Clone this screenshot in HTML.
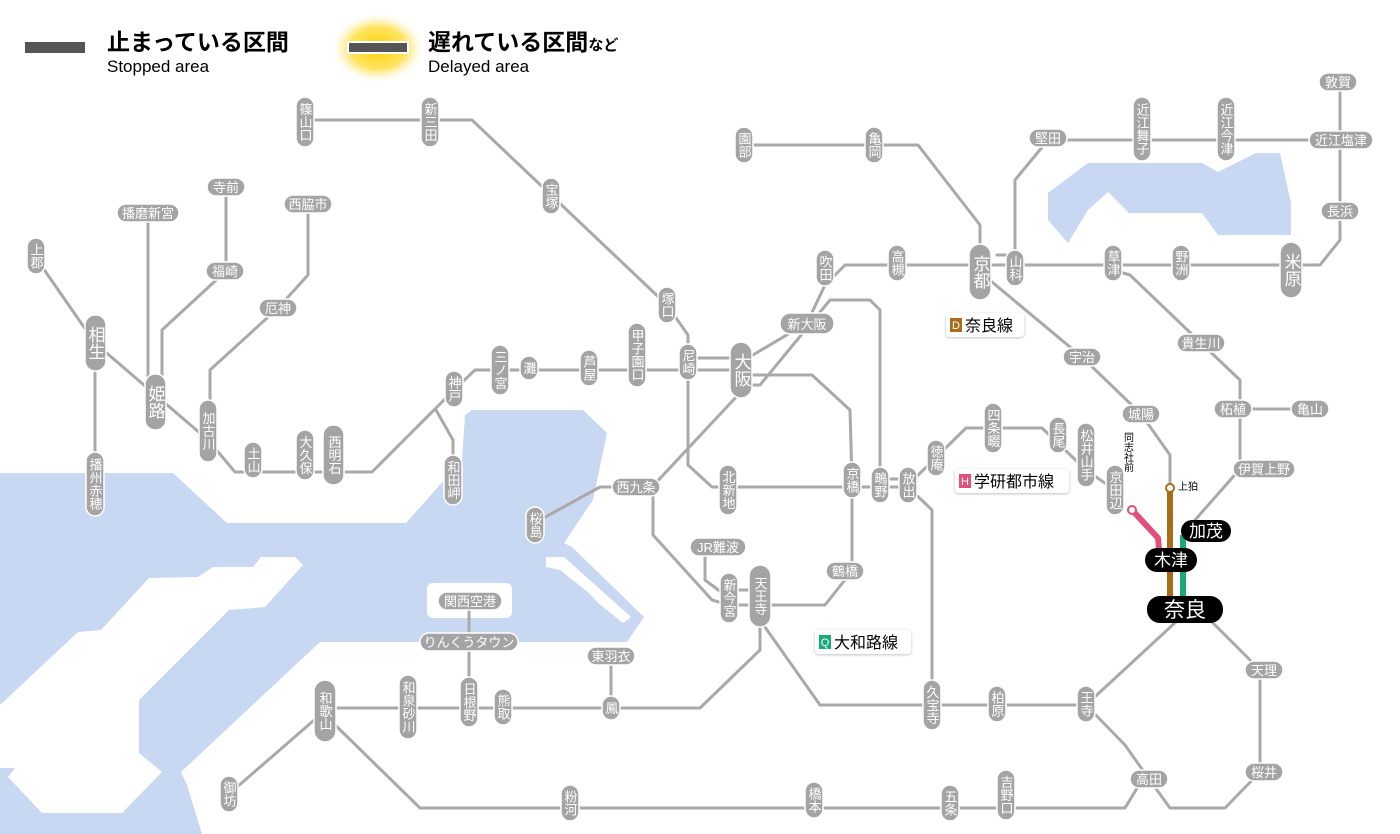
<!DOCTYPE html>
<html><head><meta charset="utf-8">
<style>
html,body{margin:0;padding:0;background:#fff;}
svg{display:block;}
.l{fill:none;stroke:#a9a9a9;stroke-width:3;stroke-linejoin:round;stroke-linecap:round;}
.p{fill:#a4a4a4;stroke:#fff;stroke-width:1.5;}
.t{fill:#fff;font-family:"Liberation Sans","Noto Sans CJK JP",sans-serif;font-size:13px;}
.b{font-size:17px;}
.v{writing-mode:vertical-rl;text-orientation:upright;}
.kt{fill:#fff;font-family:"Liberation Sans","Noto Sans CJK JP",sans-serif;}
</style></head><body>
<svg width="1400" height="834" viewBox="0 0 1400 834" xmlns="http://www.w3.org/2000/svg">
<defs>
<radialGradient id="g"><stop offset="0" stop-color="#ffd000"/><stop offset="0.6" stop-color="#ffe566"/><stop offset="1" stop-color="#fff" stop-opacity="0"/></radialGradient>
<filter id="sh"><feDropShadow dx="0" dy="1" stdDeviation="1.5" flood-color="#999" flood-opacity="0.6"/></filter>
</defs>
<!-- water -->
<g fill="#c9d8f2">
<polygon points="0,473 173,473 227,523 406,523 462,460 465,415 472,410 583,410 607,433 593,500 564,543 572,547 644,617 627,642 320,642 181,772 187,785 202,834 0,834"/>
<polygon points="1048,193 1088,163 1202,163 1218,172 1256,153 1280,153 1291,203 1291,235 1218,235 1202,213 1129,213 1108,192 1088,210 1068,243 1048,220"/>
</g>
<g fill="#fff">
<polygon points="261,557 295,557 303,565 265,607 229,610 139,700 139,753 162,772 122,813 42,813 8,777 15,768 0,768 0,705 78,632 101,630 149,578 198,577 213,567 253,567"/>
<polygon points="546,557 564,557 631,617 623,623 598,603 589,593 560,570 546,567"/>
<rect x="427" y="583" width="85" height="35" rx="6"/>
</g>
<!-- legend -->
<rect x="25" y="42" width="60" height="11" fill="#555"/>
<text x="107" y="50" font-family="Liberation Sans,'Noto Sans CJK JP',sans-serif" font-size="23" font-weight="bold" fill="#000">止まっている区間</text>
<text x="107" y="72" font-family="Liberation Sans,'Noto Sans CJK JP',sans-serif" font-size="17" fill="#000">Stopped area</text>
<ellipse cx="378" cy="48" rx="48" ry="36" fill="url(#g)"/>
<rect x="347" y="41" width="62" height="13" fill="#fff"/>
<rect x="349" y="43" width="58" height="9" fill="#555"/>
<text x="428" y="50" font-family="Liberation Sans,'Noto Sans CJK JP',sans-serif" font-size="23" font-weight="bold" fill="#000">遅れている区間<tspan font-size="15">など</tspan></text>
<text x="428" y="72" font-family="Liberation Sans,'Noto Sans CJK JP',sans-serif" font-size="17" fill="#000">Delayed area</text>

<!-- lines -->
<g class="l">
<polyline points="305,120 472,120 551,195 667,305 688,335 688,465 712,487 908,487"/>
<polyline points="688,358 741,358"/><polyline points="688,370 741,370"/>
<polyline points="36,258 95,343 208,440 235,472 372,472 454,390 475,370 741,370"/>
<polyline points="436,410 453,440 453,480"/>
<polyline points="95,343 95,483"/>
<polyline points="148,213 148,400"/>
<polyline points="226,187 226,271 162,330 162,400"/>
<polyline points="308,204 308,275 278,308 210,370 210,430"/>
<polyline points="741,362 807,323 825,285 845,265 1320,265 1340,240 1340,82"/>
<polyline points="745,385 760,385 830,300 870,300 880,310 880,485"/>
<polyline points="744,145 918,145 980,225 980,272"/>
<polyline points="997,255 1015,255"/>
<polyline points="1015,268 1015,180 1048,140 1341,140"/>
<polyline points="980,272 1082,357 1141,414 1170,455 1170,488"/>
<polyline points="1113,270 1130,275 1201,343 1240,380 1240,469 1195,520 1190,531"/>
<polyline points="1233,409 1310,409"/>
<polyline points="652,487 738,395"/>
<polyline points="745,375 812,375 850,410 852,480 852,571 825,605 729,605 712,600 653,535 653,487"/>
<polyline points="636,487 600,487 540,520"/>
<polyline points="705,555 705,580 729,598"/>
<polyline points="729,590 760,590"/>
<polyline points="760,620 820,705 1086,705 1178,620"/>
<polyline points="1086,705 1125,745 1149,779"/>
<polyline points="760,620 760,650 700,708 325,708"/>
<polyline points="611,656 611,708"/>
<polyline points="469,601 469,702"/>
<polyline points="320,715 229,794"/>
<polyline points="330,720 420,808 1125,808 1142,780"/>
<polyline points="1149,779 1170,808 1225,808 1260,772 1260,670 1210,620"/>
<polyline points="908,487 932,510 932,705"/>
<polyline points="880,479 908,479"/>
<polyline points="908,485 966,428 1042,428 1086,470 1115,490"/>
</g>
<polyline points="1132,510 1158,538 1160,560" fill="none" stroke="#e0507a" stroke-width="6" stroke-linejoin="round"/>
<polyline points="1170,488 1170,600" fill="none" stroke="#a86c1a" stroke-width="6"/>
<polyline points="1183,535 1183,600" fill="none" stroke="#1aaa7a" stroke-width="6"/>
<circle cx="1132" cy="510" r="4" fill="#fff" stroke="#e0507a" stroke-width="2"/>
<circle cx="1170" cy="488" r="4" fill="#fff" stroke="#a86c1a" stroke-width="2"/>
<text x="1127" y="452" font-family="Liberation Sans,'Noto Sans CJK JP',sans-serif" font-size="10" class="v" text-anchor="middle" fill="#000">同志社前</text>
<text x="1178" y="490" font-family="Liberation Sans,'Noto Sans CJK JP',sans-serif" font-size="10" fill="#000">上狛</text>

<!-- vertical pills -->
<g>
<rect class="p" x="296" y="97" width="18" height="50" rx="9"/><text class="t v" x="305" y="122" text-anchor="middle">篠山口</text>
<rect class="p" x="421" y="97" width="18" height="50" rx="9"/><text class="t v" x="430" y="122" text-anchor="middle">新三田</text>
<rect class="p" x="542" y="178" width="18" height="36" rx="9"/><text class="t v" x="551" y="196" text-anchor="middle">宝塚</text>
<rect class="p" x="27" y="238" width="18" height="36" rx="9"/><text class="t v" x="36" y="256" text-anchor="middle">上郡</text>
<rect class="p" x="85" y="315" width="21" height="56" rx="10"/><text class="t v b" x="95" y="343" text-anchor="middle">相生</text>
<rect class="p" x="145" y="374" width="21" height="56" rx="10"/><text class="t v b" x="155" y="402" text-anchor="middle">姫路</text>
<rect class="p" x="199" y="400" width="18" height="62" rx="9"/><text class="t v" x="208" y="431" text-anchor="middle">加古川</text>
<rect class="p" x="244" y="442" width="18" height="36" rx="9"/><text class="t v" x="253" y="460" text-anchor="middle">土山</text>
<rect class="p" x="296" y="430" width="18" height="50" rx="9"/><text class="t v" x="305" y="455" text-anchor="middle">大久保</text>
<rect class="p" x="323" y="425" width="21" height="60" rx="10"/><text class="t v" x="334" y="455" text-anchor="middle" font-size="15">西明石</text>
<rect class="p" x="86" y="452" width="18" height="64" rx="9"/><text class="t v" x="95" y="484" text-anchor="middle">播州赤穂</text>
<rect class="p" x="445" y="371" width="18" height="36" rx="9"/><text class="t v" x="454" y="389" text-anchor="middle">神戸</text>
<rect class="p" x="491" y="345" width="18" height="50" rx="9"/><text class="t v" x="500" y="370" text-anchor="middle">三ノ宮</text>
<rect class="p" x="520" y="356" width="18" height="24" rx="9"/><text class="t v" x="529" y="368" text-anchor="middle">灘</text>
<rect class="p" x="580" y="350" width="18" height="36" rx="9"/><text class="t v" x="589" y="368" text-anchor="middle">芦屋</text>
<rect class="p" x="628" y="323" width="18" height="64" rx="9"/><text class="t v" x="637" y="355" text-anchor="middle">甲子園口</text>
<rect class="p" x="679" y="344" width="18" height="36" rx="9"/><text class="t v" x="688" y="362" text-anchor="middle">尼崎</text>
<rect class="p" x="730" y="342" width="22" height="56" rx="11"/><text class="t v b" x="741" y="370" text-anchor="middle">大阪</text>
<rect class="p" x="658" y="287" width="18" height="36" rx="9"/><text class="t v" x="667" y="305" text-anchor="middle">塚口</text>
<rect class="p" x="816" y="250" width="18" height="36" rx="9"/><text class="t v" x="825" y="268" text-anchor="middle">吹田</text>
<rect class="p" x="888" y="245" width="18" height="36" rx="9"/><text class="t v" x="897" y="263" text-anchor="middle">高槻</text>
<rect class="p" x="969" y="244" width="22" height="56" rx="11"/><text class="t v b" x="980" y="272" text-anchor="middle">京都</text>
<rect class="p" x="1006" y="250" width="18" height="36" rx="9"/><text class="t v" x="1015" y="268" text-anchor="middle">山科</text>
<rect class="p" x="735" y="127" width="18" height="36" rx="9"/><text class="t v" x="744" y="145" text-anchor="middle">園部</text>
<rect class="p" x="865" y="127" width="18" height="36" rx="9"/><text class="t v" x="874" y="145" text-anchor="middle">亀岡</text>
<rect class="p" x="1133" y="97" width="18" height="64" rx="9"/><text class="t v" x="1142" y="129" text-anchor="middle">近江舞子</text>
<rect class="p" x="1217" y="97" width="18" height="64" rx="9"/><text class="t v" x="1226" y="129" text-anchor="middle">近江今津</text>
<rect class="p" x="1280" y="242" width="22" height="56" rx="11"/><text class="t v b" x="1291" y="270" text-anchor="middle">米原</text>
<rect class="p" x="1104" y="245" width="18" height="36" rx="9"/><text class="t v" x="1113" y="263" text-anchor="middle">草津</text>
<rect class="p" x="1172" y="245" width="18" height="36" rx="9"/><text class="t v" x="1181" y="263" text-anchor="middle">野洲</text>
<rect class="p" x="984" y="403" width="18" height="50" rx="9"/><text class="t v" x="993" y="428" text-anchor="middle">四条畷</text>
<rect class="p" x="927" y="440" width="18" height="36" rx="9"/><text class="t v" x="936" y="458" text-anchor="middle">徳庵</text>
<rect class="p" x="1049" y="417" width="18" height="36" rx="9"/><text class="t v" x="1058" y="435" text-anchor="middle">長尾</text>
<rect class="p" x="1077" y="423" width="18" height="64" rx="9"/><text class="t v" x="1086" y="455" text-anchor="middle">松井山手</text>
<rect class="p" x="1106" y="465" width="18" height="50" rx="9"/><text class="t v" x="1115" y="490" text-anchor="middle">京田辺</text>
<rect class="p" x="719" y="465" width="18" height="50" rx="9"/><text class="t v" x="728" y="490" text-anchor="middle">北新地</text>
<rect class="p" x="843" y="462" width="18" height="36" rx="9"/><text class="t v" x="852" y="480" text-anchor="middle">京橋</text>
<rect class="p" x="871" y="467" width="18" height="36" rx="9"/><text class="t v" x="880" y="485" text-anchor="middle">鴫野</text>
<rect class="p" x="899" y="467" width="18" height="36" rx="9"/><text class="t v" x="908" y="485" text-anchor="middle">放出</text>
<rect class="p" x="526" y="507" width="18" height="36" rx="9"/><text class="t v" x="535" y="525" text-anchor="middle">桜島</text>
<rect class="p" x="444" y="455" width="18" height="50" rx="9"/><text class="t v" x="453" y="480" text-anchor="middle">和田岬</text>
<rect class="p" x="720" y="573" width="18" height="50" rx="9"/><text class="t v" x="729" y="598" text-anchor="middle">新今宮</text>
<rect class="p" x="749" y="565" width="22" height="62" rx="11"/><text class="t v" x="760" y="596" text-anchor="middle" font-size="15">天王寺</text>
<rect class="p" x="602" y="696" width="18" height="24" rx="9"/><text class="t v" x="611" y="708" text-anchor="middle">鳳</text>
<rect class="p" x="314" y="680" width="22" height="62" rx="11"/><text class="t v" x="325" y="711" text-anchor="middle" font-size="15">和歌山</text>
<rect class="p" x="399" y="675" width="18" height="64" rx="9"/><text class="t v" x="408" y="707" text-anchor="middle">和泉砂川</text>
<rect class="p" x="460" y="677" width="18" height="50" rx="9"/><text class="t v" x="469" y="702" text-anchor="middle">日根野</text>
<rect class="p" x="494" y="689" width="18" height="36" rx="9"/><text class="t v" x="503" y="707" text-anchor="middle">熊取</text>
<rect class="p" x="220" y="776" width="18" height="36" rx="9"/><text class="t v" x="229" y="794" text-anchor="middle">御坊</text>
<rect class="p" x="561" y="785" width="18" height="36" rx="9"/><text class="t v" x="570" y="803" text-anchor="middle">粉河</text>
<rect class="p" x="805" y="782" width="18" height="36" rx="9"/><text class="t v" x="814" y="800" text-anchor="middle">橋本</text>
<rect class="p" x="941" y="785" width="18" height="36" rx="9"/><text class="t v" x="950" y="803" text-anchor="middle">五条</text>
<rect class="p" x="997" y="770" width="18" height="50" rx="9"/><text class="t v" x="1006" y="795" text-anchor="middle">吉野口</text>
<rect class="p" x="923" y="680" width="18" height="50" rx="9"/><text class="t v" x="932" y="705" text-anchor="middle">久宝寺</text>
<rect class="p" x="988" y="686" width="18" height="36" rx="9"/><text class="t v" x="997" y="704" text-anchor="middle">柏原</text>
<rect class="p" x="1077" y="686" width="18" height="36" rx="9"/><text class="t v" x="1086" y="704" text-anchor="middle">王寺</text>
</g>
<!-- horizontal pills -->
<g>
<rect class="p" x="207" y="178" width="38" height="18" rx="9"/><text class="t" x="226" y="192" text-anchor="middle">寺前</text>
<rect class="p" x="117" y="204" width="62" height="18" rx="9"/><text class="t" x="148" y="218" text-anchor="middle">播磨新宮</text>
<rect class="p" x="284" y="195" width="48" height="18" rx="9"/><text class="t" x="308" y="209" text-anchor="middle">西脇市</text>
<rect class="p" x="206" y="262" width="38" height="18" rx="9"/><text class="t" x="225" y="276" text-anchor="middle">福崎</text>
<rect class="p" x="259" y="299" width="38" height="18" rx="9"/><text class="t" x="278" y="313" text-anchor="middle">厄神</text>
<rect class="p" x="780" y="313" width="54" height="21" rx="10"/><text class="t" x="807" y="329" text-anchor="middle" font-size="15">新大阪</text>
<rect class="p" x="1029" y="129" width="38" height="18" rx="9"/><text class="t" x="1048" y="143" text-anchor="middle">堅田</text>
<rect class="p" x="1319" y="73" width="38" height="18" rx="9"/><text class="t" x="1338" y="87" text-anchor="middle">敦賀</text>
<rect class="p" x="1309" y="131" width="64" height="18" rx="9"/><text class="t" x="1341" y="145" text-anchor="middle">近江塩津</text>
<rect class="p" x="1321" y="202" width="38" height="18" rx="9"/><text class="t" x="1340" y="216" text-anchor="middle">長浜</text>
<rect class="p" x="1063" y="348" width="38" height="18" rx="9"/><text class="t" x="1082" y="362" text-anchor="middle">宇治</text>
<rect class="p" x="1177" y="334" width="48" height="18" rx="9"/><text class="t" x="1201" y="348" text-anchor="middle">貴生川</text>
<rect class="p" x="1122" y="405" width="38" height="18" rx="9"/><text class="t" x="1141" y="419" text-anchor="middle">城陽</text>
<rect class="p" x="1214" y="400" width="38" height="18" rx="9"/><text class="t" x="1233" y="414" text-anchor="middle">柘植</text>
<rect class="p" x="1291" y="400" width="38" height="18" rx="9"/><text class="t" x="1310" y="414" text-anchor="middle">亀山</text>
<rect class="p" x="1233" y="460" width="62" height="18" rx="9"/><text class="t" x="1264" y="474" text-anchor="middle">伊賀上野</text>
<rect class="p" x="612" y="478" width="48" height="18" rx="9"/><text class="t" x="636" y="492" text-anchor="middle">西九条</text>
<rect class="p" x="690" y="538" width="56" height="18" rx="9"/><text class="t" x="718" y="552" text-anchor="middle">JR難波</text>
<rect class="p" x="826" y="562" width="38" height="18" rx="9"/><text class="t" x="845" y="576" text-anchor="middle">鶴橋</text>
<rect class="p" x="438" y="592" width="64" height="18" rx="9"/><text class="t" x="470" y="606" text-anchor="middle">関西空港</text>
<rect class="p" x="420" y="633" width="98" height="18" rx="9"/><text class="t" x="469" y="647" text-anchor="middle">りんくうタウン</text>
<rect class="p" x="587" y="647" width="48" height="18" rx="9"/><text class="t" x="611" y="661" text-anchor="middle">東羽衣</text>
<rect class="p" x="1130" y="770" width="38" height="18" rx="9"/><text class="t" x="1149" y="784" text-anchor="middle">高田</text>
<rect class="p" x="1245" y="661" width="38" height="18" rx="9"/><text class="t" x="1264" y="675" text-anchor="middle">天理</text>
<rect class="p" x="1245" y="763" width="38" height="18" rx="9"/><text class="t" x="1264" y="777" text-anchor="middle">桜井</text>
</g>
<!-- black pills -->
<rect x="1181" y="520" width="50" height="22" rx="11" fill="#000"/><text class="kt" x="1206" y="537" text-anchor="middle" font-size="17">加茂</text>
<rect x="1145" y="548" width="52" height="24" rx="12" fill="#000"/><text class="kt" x="1171" y="566" text-anchor="middle" font-size="17">木津</text>
<rect x="1147" y="596" width="76" height="27" rx="13" fill="#000"/><text class="kt" x="1185" y="617" text-anchor="middle" font-size="21">奈良</text>
<!-- line labels -->
<g font-family="Liberation Sans,'Noto Sans CJK JP',sans-serif">
<rect x="946" y="313" width="78" height="24" rx="4" fill="#fff" filter="url(#sh)"/>
<rect x="950" y="318" width="12" height="14" fill="#a86c1a"/><text x="956" y="329" font-size="11" fill="#fff" text-anchor="middle">D</text>
<text x="965" y="331" font-size="16" fill="#000">奈良線</text>
<rect x="955" y="469" width="114" height="24" rx="4" fill="#fff" filter="url(#sh)"/>
<rect x="959" y="474" width="12" height="14" fill="#e0507a"/><text x="965" y="485" font-size="11" fill="#fff" text-anchor="middle">H</text>
<text x="974" y="487" font-size="16" fill="#000">学研都市線</text>
<rect x="815" y="630" width="96" height="24" rx="4" fill="#fff" filter="url(#sh)"/>
<rect x="819" y="635" width="12" height="14" fill="#1aaa7a"/><text x="825" y="646" font-size="11" fill="#fff" text-anchor="middle">Q</text>
<text x="834" y="648" font-size="16" fill="#000">大和路線</text>
</g>
</svg>
</body></html>
